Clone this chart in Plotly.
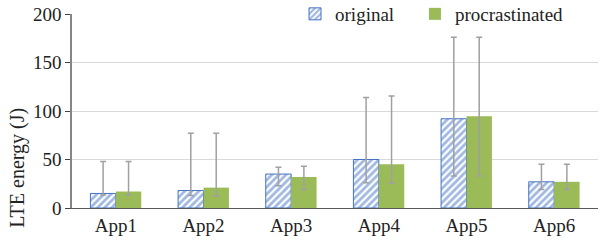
import plotly.graph_objects as go

categories = ["App1", "App2", "App3", "App4", "App5", "App6"]
original = [15, 18, 35, 50, 92, 27]
original_min = [13.5, 13, 23, 26, 33, 19]
original_max = [48, 77, 42, 114, 176, 45]
procrastinated = [17, 21, 32, 45, 94.5, 27]
procrastinated_min = [13.5, 12.5, 19, 25.5, 33, 19]
procrastinated_max = [48, 77, 43, 115.5, 176, 45]
y_title = "LTE energy (J)"

FONT = "Liberation Serif"
BLUE = "#4472C4"
GREEN = "#9BBB59"
ERR = "#A0A0A0"

def err(vals, mins, maxs):
    return dict(type="data", symmetric=False,
                array=[mx - v for v, mx in zip(vals, maxs)],
                arrayminus=[v - mn for v, mn in zip(vals, mins)],
                color=ERR, thickness=1.5, width=3)

fig = go.Figure()
fig.add_trace(go.Bar(
    name="original", x=categories, y=original, legend="legend",
    marker=dict(color="white", line=dict(color=BLUE, width=1),
                pattern=dict(shape="/", fgcolor=BLUE, bgcolor="white", size=5, solidity=0.55)),
    error_y=err(original, original_min, original_max),
))
fig.add_trace(go.Bar(
    name="procrastinated", x=categories, y=procrastinated, legend="legend2",
    marker=dict(color=GREEN, line=dict(color=GREEN, width=0)),
    error_y=err(procrastinated, procrastinated_min, procrastinated_max),
))

leg_common = dict(orientation="h", y=1.0, xanchor="left", yanchor="middle",
                  bgcolor="rgba(0,0,0,0)", font=dict(size=19), itemwidth=30)

fig.update_layout(
    width=602, height=249,
    margin=dict(l=72, r=4, t=14, b=41, autoexpand=False),
    paper_bgcolor="white", plot_bgcolor="white",
    barmode="group", bargap=0.42, bargroupgap=0,
    font=dict(family=FONT, size=19, color="#222222"),
    showlegend=True,
    legend=dict(x=0.424, **leg_common),
    legend2=dict(x=0.652, **leg_common),
    xaxis=dict(showline=True, linecolor="#595959", linewidth=1, ticks="",
               tickfont=dict(size=19)),
    yaxis=dict(range=[0, 200], tickvals=[0, 50, 100, 150, 200],
               showgrid=True, gridcolor="#D9D9D9", gridwidth=1,
               showline=True, linecolor="#868686", linewidth=1.5,
               ticks="outside", ticklen=5, tickcolor="#404040",
               zeroline=False, tickfont=dict(size=19)),
    annotations=[dict(text=y_title, textangle=-90, xref="paper", yref="paper",
                      x=-0.105, y=0.206, xanchor="center", yanchor="middle",
                      showarrow=False, font=dict(size=20))],
)

fig.write_html("out.html", config={"displayModeBar": False},
               post_script="document.body.style.margin='0';")
